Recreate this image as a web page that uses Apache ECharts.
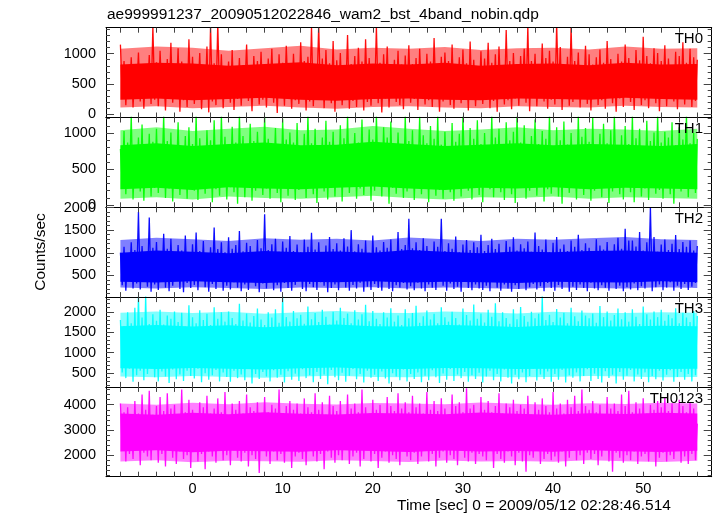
<!DOCTYPE html>
<html>
<head>
<meta charset="utf-8">
<script src="https://cdn.jsdelivr.net/npm/echarts@6/dist/echarts.min.js"></script>
<style>
html,body{margin:0;padding:0;background:#fff;}
#c{width:717px;height:516px;}
</style>
</head>
<body>
<div id="c"></div>
<script>
// ---- data (counts/sec), time bins start at T0 with step DT seconds ----
const T0 = -8, DT = 0.2;
const panelNames = ["TH0", "TH1", "TH2", "TH3", "TH0123"];
const panelColors = ["#ff0000", "#00ff00", "#0000ff", "#00ffff", "#ff00ff"];

const th0 = [
1150,330,880,150,760,260,940,110,690,380,1020,210,820,90,730,300,980,170,1460,240,
860,130,1050,310,700,60,910,280,1180,190,770,350,1090,40,870,230,760,120,1240,280,
950,170,820,340,1010,80,730,260,1120,30,1470,210,840,150,1500,290,990,100,780,360,
870,190,1060,70,740,250,930,140,810,390,1150,220,700,50,960,300,880,160,1030,240,
790,110,920,330,1080,190,760,20,990,270,850,140,1130,350,720,90,1000,230,830,170,
1190,300,880,60,950,210,1450,130,770,380,1480,250,920,100,1060,320,840,180,1210,40,
890,270,1010,150,760,350,1310,90,830,220,960,120,1100,310,870,60,1240,200,930,140,
790,280,1450,180,850,30,990,260,1120,110,760,340,900,200,1050,150,820,80,970,300,
1140,190,830,250,930,70,1080,330,780,160,1000,230,870,120,1260,280,810,40,950,210,
1020,360,880,150,1150,90,790,270,940,180,1070,320,840,60,1200,240,900,130,780,290,
1040,170,920,350,1180,100,850,220,990,40,1120,300,790,160,1390,230,880,80,1010,260,
830,140,960,370,1080,190,1460,50,880,280,1000,130,760,330,1170,210,930,90,1050,240,
870,160,1490,310,1110,70,800,250,950,140,1460,200,880,370,1020,110,760,280,1130,170,
990,60,820,300,940,150,1070,230,850,90,1210,340,910,180,790,40,1000,260,870,120,
1150,290,930,200,810,70,1060,320,890,150,1280,230,960,100,840,350,1090,180,1010,50,
880,270,1140,130,920,300,790,210,1030,80,960,250,1190,160,850,330,1080,120,940,220,
900];

const th1 = [
780,290,1030,150,870,350,1250,80,720,260,940,190,1120,60,810,330,990,120,880,240,
1060,170,760,370,1250,100,890,230,1010,50,830,300,1150,140,700,260,960,90,1080,340,
850,200,1250,70,930,280,790,160,1040,360,900,40,1180,220,820,130,1250,310,950,80,
730,250,1090,180,870,20,1250,330,960,110,800,270,1130,60,890,200,1020,350,780,140,
1250,230,920,90,840,310,1070,170,750,40,1200,280,910,130,1010,360,870,70,1140,210,
800,320,990,100,1250,250,860,150,1060,30,780,290,940,190,1170,80,880,340,1020,120,
760,260,1110,50,930,300,1250,170,820,380,1000,90,870,230,1190,140,790,310,1050,60,
910,200,1250,280,830,120,1080,350,940,20,1160,240,850,160,1010,330,770,100,1250,190,
890,270,1040,70,800,360,1230,150,970,230,860,40,1100,300,920,130,1250,210,840,90,
1020,330,760,180,1140,60,880,250,990,120,1250,370,810,200,1070,80,920,290,1180,140,
850,40,1000,310,790,220,1250,110,940,350,1060,180,830,70,1150,260,900,150,1020,30,
1250,240,870,330,1110,90,780,200,960,370,1190,130,850,280,1030,50,920,220,1250,160,
810,300,1080,120,900,20,1160,250,840,170,1000,340,770,80,1250,230,950,140,1070,290,
880,60,1210,200,820,360,990,110,1130,270,860,30,1040,190,1250,310,790,150,970,80,
1100,260,850,180,1250,40,930,340,1060,120,800,230,1170,70,890,300,1010,160,1250,210,
870,90,1020,280,940,150,1150,20,830,250,1080,190,910,360,1250,110,860,240,1000,170,
920];

const th2 = [
1000,280,1130,160,950,390,1230,210,1060,320,1900,190,1150,430,980,250,1780,140,1110,300,
1240,180,1020,360,1420,230,1090,150,1310,270,980,410,1170,200,1050,130,1380,330,1000,220,
1190,290,1450,170,1040,380,1260,240,970,140,1120,310,1560,200,1080,420,1230,160,1010,270,
1340,190,1090,350,1170,230,1480,150,1030,300,1220,180,1150,400,990,260,1280,130,1100,320,
1850,210,1060,370,1190,170,1310,280,1020,140,1250,330,1110,220,1370,160,1040,290,1180,380,
1010,200,1290,150,1130,310,1440,240,1070,180,1230,350,990,270,1160,130,1350,220,1080,300,
1210,170,1050,400,1320,230,1140,160,1500,290,1030,210,1190,340,1090,140,1270,250,1000,180,
1380,310,1120,220,1050,160,1240,370,1110,200,1290,150,1020,280,1460,230,1080,330,1170,190,
1750,260,1100,170,1230,340,1060,210,1320,150,1150,300,1000,230,1250,180,1130,390,1750,270,
1040,160,1210,320,1090,200,1360,250,1010,140,1180,360,1280,220,1060,170,1230,300,1120,210,
1400,180,1040,270,1170,150,1310,380,1080,230,1200,160,990,300,1260,210,1130,140,1340,280,
1050,200,1190,350,1100,170,1250,240,1020,310,1450,190,1150,260,1070,150,1290,330,1010,220,
1220,160,1350,290,1090,200,1180,370,1040,140,1270,250,1130,180,1400,300,1060,220,1210,150,
1110,340,1030,210,1300,170,1160,280,1070,230,1240,160,1020,360,1190,200,1330,270,1090,150,
1530,240,1270,190,1270,320,1140,170,1460,260,1050,210,1230,380,2000,150,1350,240,1020,300,
1180,170,1290,230,1060,350,1200,160,1390,270,1080,200,1240,310,1130,180,1270,250,1050,330,
1150];

const th3 = [
1800,520,1650,380,1990,610,1720,290,2100,450,2400,560,1860,330,2400,480,1700,620,1940,400,
1780,300,2050,540,1690,420,1910,260,1830,590,2010,350,1750,470,1980,310,1640,560,2160,430,
1870,370,1720,610,2040,280,1800,500,1950,340,1680,450,2110,580,1830,300,1990,520,1760,410,
2010,290,1850,560,1700,380,2200,470,1790,330,1960,610,1740,250,1900,480,2080,360,1810,530,
1680,420,1990,300,1860,570,2060,390,1730,460,2400,270,1870,550,1760,340,2020,490,1840,310,
1930,600,1710,380,2130,450,1820,280,1970,530,1750,360,2050,470,1880,230,1690,580,2000,400,
1790,330,2100,510,1850,290,1960,440,1720,600,2040,350,1810,480,1940,270,2170,560,1770,390,
2020,460,1830,310,1700,540,1990,370,1860,250,2090,500,1760,420,1910,330,1680,590,2060,300,
1840,480,1970,360,2150,520,1730,280,1890,440,2030,330,1810,570,1950,400,1720,260,2110,490,
1870,340,1760,600,2000,310,1850,470,1690,380,2080,530,1920,290,1790,450,2180,360,1830,510,
1960,270,1740,420,2050,560,1880,330,2210,480,1770,300,1990,590,1850,390,1710,250,2060,460,
1820,350,2120,520,1900,280,1760,430,2000,610,1840,320,1950,470,2390,360,1800,540,1930,290,
1750,480,2070,340,1860,580,1980,270,1720,450,2100,390,1890,520,1770,300,2030,430,1910,600,
1840,310,1960,490,1730,360,2140,270,1870,550,2010,380,1790,460,1920,250,2080,530,1820,340,
1990,440,1760,580,2060,300,1880,470,1700,360,2130,520,1940,280,1810,430,2010,350,1870,560,
2050,320,1780,460,1930,570,1840,290,2090,410,1720,530,1980,340,1860,480,1750,300,2020,450,
1900];

const th0123 = [
4050,2200,3700,1750,3900,2050,3500,1850,4150,2300,3650,1600,4400,2100,3800,1950,4550,1800,3600,2250,
3950,1700,4300,2050,3750,1550,4450,2200,3850,1900,4000,1650,3550,2150,4600,1850,3700,2000,4200,1500,
3800,2250,3600,1750,4100,2050,3900,1450,4350,2150,3650,1950,3850,1700,4250,2300,3700,1800,4500,2000,
3550,1600,4050,2200,3800,1900,4150,1750,3650,2100,4400,1550,3900,2000,3750,1850,4100,1300,3600,2250,
4300,1950,3700,1650,4000,2150,3850,1800,4600,2050,3550,1700,3950,2250,4150,1500,3800,1950,4050,2100,
3650,1850,4250,1600,3900,2200,3700,1950,4450,1750,3800,2050,4100,1450,3600,2150,4350,1900,3950,1700,
3750,2000,4150,1800,3550,2250,4400,1650,3850,1950,4050,2100,3700,1550,4600,1850,3900,2200,3650,1750,
4200,2050,3800,1500,4000,1900,3600,2150,4300,1700,3950,2000,3750,1850,4450,1600,3850,2250,4100,1950,
3700,1800,4350,2100,3900,1650,4050,1950,3650,2200,4500,1750,3800,2050,4150,1550,3750,1900,4250,2150,
3850,1700,3600,2000,4400,1850,3950,1600,4100,2250,3700,1900,4650,1750,3850,2100,4000,1650,3550,2050,
4300,1950,3800,1800,4150,2200,3700,1500,3950,2050,4450,1850,3650,1700,4050,2150,3900,1950,4200,1600,
3750,2100,4000,1750,3850,1350,4350,2000,3600,1900,4100,2200,3800,1650,4250,1850,3950,2050,3700,1800,
4500,1950,3850,1700,4050,2150,3650,1550,4200,1900,3900,2250,4350,1800,3750,2000,4600,1650,3950,2100,
3800,1850,4150,2050,3700,1600,4000,1950,3600,2200,4300,1750,3850,1350,4050,2100,3750,1900,4400,1700,
3950,2000,4550,1800,3700,2150,4100,1650,3850,1950,4250,2050,3650,1750,4000,2200,3800,1550,4150,1900,
3900,2100,4300,1750,3750,2000,4050,1850,3600,2200,4200,1700,3950,1950,3700,1650,4100,2050,3850,1800,
3250];

// envelopes of the trace, every BAND_DT seconds from T0:
// core = where the trace is solid, outer = where it is still densely hatched
const BAND_DT = 4;
const coreLo = [
  [240,260,230,250,270,240,220,250,260,240,230,260,250,240,270,250,240],
  [220,240,210,250,230,220,240,260,230,210,240,230,250,220,240,230,220],
  [360,340,370,350,330,360,350,370,340,360,350,330,360,350,340,370,350],
  [620,600,630,610,590,620,640,610,600,630,620,600,610,630,620,600,610],
  [2150,2200,2120,2180,2160,2140,2200,2170,2130,2190,2150,2170,2140,2200,2160,2130,2180]
];
const coreHi = [
  [820,850,840,800,830,860,810,840,820,850,800,830,840,810,850,820,830],
  [830,860,820,850,870,830,840,880,850,820,840,860,830,850,840,820,850],
  [1000,1050,1020,990,1040,1010,1030,1000,1060,1020,990,1030,1010,1040,1050,1020,1000],
  [1650,1680,1640,1670,1620,1660,1690,1650,1640,1680,1660,1630,1670,1650,1640,1660,1650],
  [3650,3600,3680,3620,3700,3640,3610,3670,3650,3620,3690,3640,3600,3660,3630,3680,3650]
];
const outerLo = [
  [110,130,100,120,140,110,90,120,130,110,100,130,120,110,140,120,110],
  [90,110,80,120,100,90,110,130,100,80,110,100,120,90,110,100,90],
  [230,210,240,220,200,230,220,240,210,230,220,200,230,220,210,240,220],
  [420,400,430,410,390,420,440,410,400,430,420,400,410,430,420,400,410],
  [1750,1800,1720,1780,1760,1740,1800,1770,1730,1790,1750,1770,1740,1800,1760,1730,1780]
];
const outerHi = [
  [1080,1120,1100,1050,1090,1130,1070,1100,1080,1110,1060,1090,1100,1070,1120,1080,1090],
  [1040,1080,1030,1060,1090,1040,1050,1100,1060,1030,1050,1080,1040,1060,1050,1030,1060],
  [1280,1330,1300,1260,1320,1290,1310,1270,1340,1300,1260,1310,1290,1320,1350,1300,1280],
  [1980,2010,1970,2000,1950,1990,2020,1980,1970,2010,1990,1960,2000,1980,1970,1990,1980],
  [4050,4000,4080,4020,4100,4040,4010,4070,4050,4020,4090,4040,4000,4060,4030,4080,4050]
];

// axis ranges and tick labels
const xRange = [-9.6, 57.6];
const xTickLabels = [0, 10, 20, 30, 40, 50];
const yRanges = [[-55, 1430], [-30, 1217], [20, 2005], [165, 2360], [1150, 4705]];
const yTickLabels = [
  [0, 500, 1000],
  [0, 500, 1000],
  [500, 1000, 1500, 2000],
  [500, 1000, 1500, 2000],
  [2000, 3000, 4000]
];
const yMinorStep = [100, 100, 100, 100, 200];
const title = "ae999991237_20090512022846_wam2_bst_4band_nobin.qdp";
const xName = "Time [sec] 0 = 2009/05/12 02:28:46.514";
const yName = "Counts/sec";

// ---- layout ----
const FONT = "Liberation Sans";
const plotLeft = 106, plotRight = 711.7, plotTop = 27.7, panelH = 89.8;
const allSeries = [th0, th1, th2, th3, th0123];

function steps(lo, hi, step) {
  const out = [];
  for (let v = Math.ceil(lo / step) * step; v <= hi + 1e-9; v += step) out.push(+v.toFixed(6));
  return out;
}
const xMinorTicks = steps(-8, 56, 2);

const grids = [], xAxes = [], yAxes = [], series = [], graphics = [];
const axisLine = { show: true, onZero: false, lineStyle: { color: "#000", width: 1 } };
const tickStyle = { color: "#444", width: 1 };
const plainFmt = (v) => String(v);

function bandSeries(i, lo, hi, opacity, z, name) {
  const bandData = lo.map((v, k) => [T0 + k * BAND_DT, v, hi[k]]);
  const col = panelColors[i];
  return {
    type: "custom", name: name, xAxisIndex: 2 * i, yAxisIndex: 4 * i,
    data: bandData, encode: { x: 0, y: [1, 2] }, silent: true, z: z,
    renderItem: function (params, api) {
      if (params.dataIndex !== 0) return null;
      const pts = [];
      for (let k = 0; k < bandData.length; k++) pts.push(api.coord([bandData[k][0], bandData[k][1]]));
      for (let k = bandData.length - 1; k >= 0; k--) pts.push(api.coord([bandData[k][0], bandData[k][2]]));
      return { type: "polygon", shape: { points: pts }, style: { fill: col, opacity: opacity } };
    }
  };
}

for (let i = 0; i < 5; i++) {
  const top = plotTop + i * panelH;
  grids.push({ left: plotLeft, top: top, width: plotRight - plotLeft, height: panelH, containLabel: false });
  const last = i === 4;
  ["bottom", "top"].forEach((pos, j) => {
    xAxes.push({
      type: "value", gridIndex: i, position: pos, min: xRange[0], max: xRange[1], z: 10,
      axisLine: axisLine,
      axisTick: { show: true, inside: true, length: 5, customValues: xMinorTicks, lineStyle: tickStyle },
      axisLabel: { show: last && j === 0, customValues: xTickLabels, formatter: plainFmt, margin: 5, color: "#000", fontFamily: FONT, fontSize: 14.5 },
      splitLine: { show: false }
    });
  });
  const [ymin, ymax] = yRanges[i];
  const minor = steps(ymin, ymax, yMinorStep[i]);
  ["left", "right"].forEach((pos) => {
    yAxes.push({
      type: "value", gridIndex: i, position: pos, min: ymin, max: ymax, z: 10,
      axisLine: axisLine,
      axisTick: { show: true, inside: true, length: 8, customValues: yTickLabels[i], lineStyle: tickStyle },
      axisLabel: { show: pos === "left", customValues: yTickLabels[i], formatter: plainFmt, margin: 10, color: "#000", fontFamily: FONT, fontSize: 14.5 },
      splitLine: { show: false }
    });
    yAxes.push({
      type: "value", gridIndex: i, position: pos, min: ymin, max: ymax, z: 10,
      axisLine: { show: false, onZero: false },
      axisTick: { show: true, inside: true, length: 4, customValues: minor, lineStyle: tickStyle },
      axisLabel: { show: false },
      splitLine: { show: false }
    });
  });
  const col = panelColors[i];
  series.push(bandSeries(i, outerLo[i], outerHi[i], 0.5, 1, panelNames[i] + " outer"));
  series.push(bandSeries(i, coreLo[i], coreHi[i], 1, 2, panelNames[i] + " core"));
  // the light curve itself
  series.push({
    type: "line", name: panelNames[i], xAxisIndex: 2 * i, yAxisIndex: 4 * i,
    data: allSeries[i].map((v, k) => [+(T0 + k * DT).toFixed(3), v]),
    symbol: "none", showSymbol: false, clip: true,
    lineStyle: { color: col, width: 1.3, opacity: 0.95 },
    itemStyle: { color: col }, z: 3
  });
  graphics.push({
    type: "text", right: 717 - 703, top: top + 4, z: 100,
    style: { text: panelNames[i], fill: "#000", font: "15px '" + FONT + "'", textAlign: "right" }
  });
}

graphics.push({
  type: "text", left: 107, top: 7,
  style: { text: title, fill: "#000", font: "15.5px '" + FONT + "'" }
});
graphics.push({
  type: "text", left: 397, top: 498,
  style: { text: xName, fill: "#000", font: "15.5px '" + FONT + "'", textAlign: "center" }
});
graphics.push({
  type: "text", x: 41, y: 252, rotation: Math.PI / 2,
  style: { text: yName, fill: "#000", font: "15.5px '" + FONT + "'", textAlign: "center", textVerticalAlign: "middle" }
});

const chart = echarts.init(document.getElementById("c"), null, { renderer: "canvas" });
chart.setOption({
  animation: false,
  backgroundColor: "#fff",
  grid: grids, xAxis: xAxes, yAxis: yAxes, series: series, graphic: graphics
});
</script>
</body>
</html>
